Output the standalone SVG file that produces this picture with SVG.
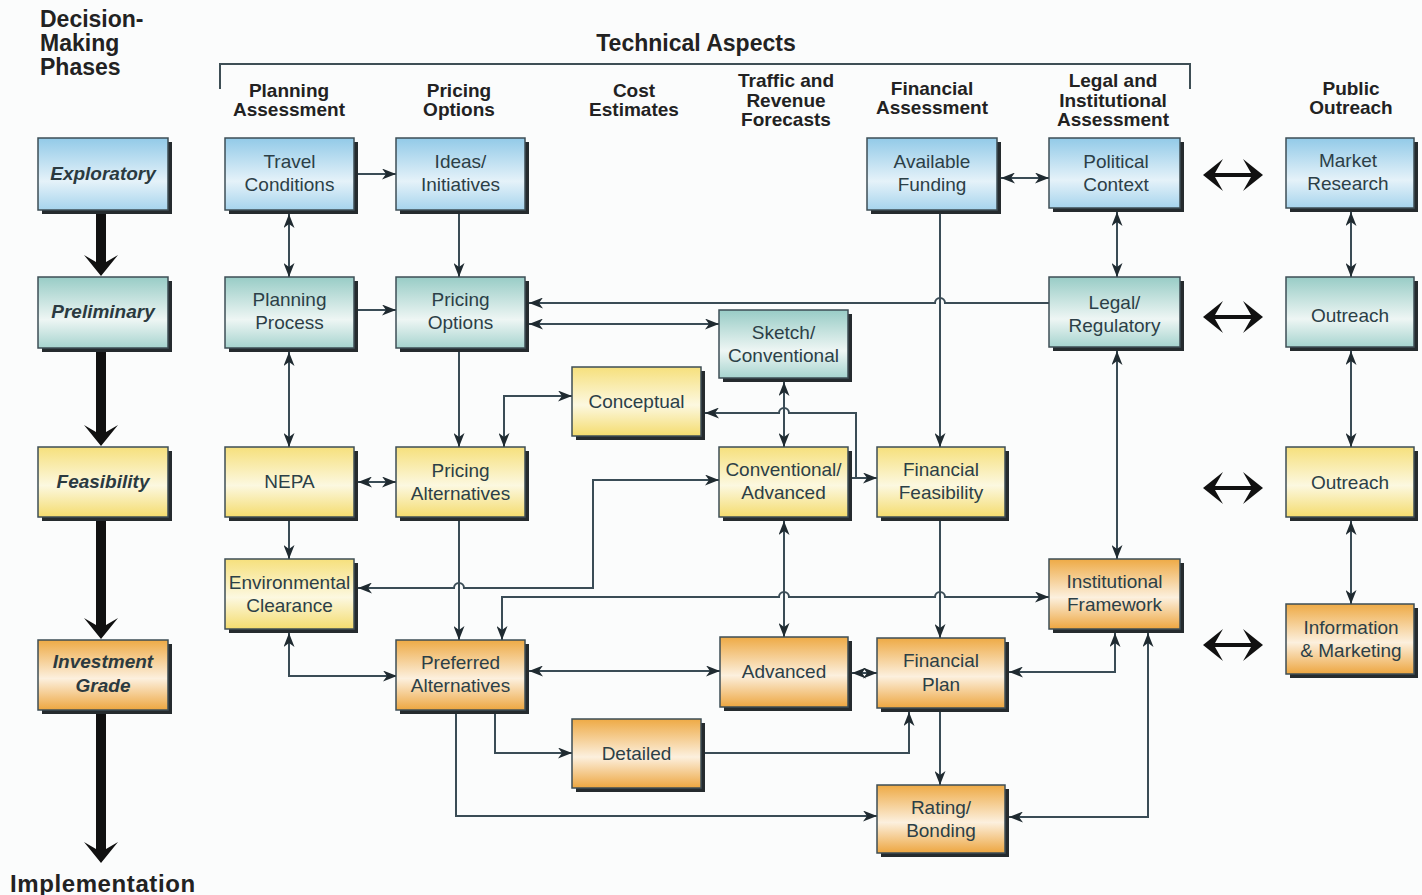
<svg xmlns="http://www.w3.org/2000/svg" width="1422" height="895" viewBox="0 0 1422 895">
<defs>
<linearGradient id="gBlue" x1="0" y1="0" x2="0" y2="1"><stop offset="0" stop-color="#92cae8"/><stop offset="0.6" stop-color="#e5f2f9"/><stop offset="1" stop-color="#a6d4ed"/></linearGradient>
<linearGradient id="gTeal" x1="0" y1="0" x2="0" y2="1"><stop offset="0" stop-color="#98ccc6"/><stop offset="0.6" stop-color="#eef6f4"/><stop offset="1" stop-color="#a6d4cf"/></linearGradient>
<linearGradient id="gYellow" x1="0" y1="0" x2="0" y2="1"><stop offset="0" stop-color="#f6e07c"/><stop offset="0.55" stop-color="#fcf8e0"/><stop offset="1" stop-color="#f4dc6e"/></linearGradient>
<linearGradient id="gOrange" x1="0" y1="0" x2="0" y2="1"><stop offset="0" stop-color="#eeaa45"/><stop offset="0.55" stop-color="#fcf0de"/><stop offset="1" stop-color="#eda640"/></linearGradient>
<marker id="ah" viewBox="0 0 14 11" refX="14" refY="5.5" markerWidth="14" markerHeight="11" markerUnits="userSpaceOnUse" orient="auto-start-reverse"><path d="M0,0 L14,5.5 L0,11 L4,5.5 Z" fill="#1f2a30"/></marker>
</defs>
<style>
.sh{fill:#252b2e}
.bx{stroke:#3e4e55;stroke-width:1.5}
.blue{fill:url(#gBlue)}
.teal{fill:url(#gTeal)}
.yel{fill:url(#gYellow)}
.org{fill:url(#gOrange)}
.t{font-family:"Liberation Sans",Arial,sans-serif;font-size:19px;fill:#2c3f47;text-anchor:middle}
.ph{font-family:"Liberation Sans",Arial,sans-serif;font-size:19px;font-weight:bold;font-style:italic;fill:#2b3a40;text-anchor:middle}
.hd{font-family:"Liberation Sans",Arial,sans-serif;font-size:19px;font-weight:bold;fill:#222;text-anchor:middle}
.big{font-family:"Liberation Sans",Arial,sans-serif;font-size:23px;font-weight:bold;fill:#222}
.c{fill:none;stroke:#3a4c56;stroke-width:2}
.e{marker-end:url(#ah)}
.b{marker-start:url(#ah);marker-end:url(#ah)}
.pa{fill:#111}
</style>
<rect x="0" y="0" width="1422" height="895" fill="#fbfcfc"/>

<g id="headers">
<text class="big" x="40" y="27">Decision-</text>
<text class="big" x="40" y="51">Making</text>
<text class="big" x="40" y="75">Phases</text>
<text class="big" x="696" y="51" text-anchor="middle">Technical Aspects</text>
<path d="M220,89 V64 H1190 V89" fill="none" stroke="#3e4e55" stroke-width="2"/>
<text class="hd" x="289" y="97">Planning</text><text class="hd" x="289" y="116">Assessment</text>
<text class="hd" x="459" y="97">Pricing</text><text class="hd" x="459" y="116">Options</text>
<text class="hd" x="634" y="97">Cost</text><text class="hd" x="634" y="116">Estimates</text>
<text class="hd" x="786" y="87">Traffic and</text><text class="hd" x="786" y="107">Revenue</text><text class="hd" x="786" y="126">Forecasts</text>
<text class="hd" x="932" y="95">Financial</text><text class="hd" x="932" y="114">Assessment</text>
<text class="hd" x="1113" y="87">Legal and</text><text class="hd" x="1113" y="107">Institutional</text><text class="hd" x="1113" y="126">Assessment</text>
<text class="hd" x="1351" y="95">Public</text><text class="hd" x="1351" y="114">Outreach</text>
<text class="big" x="10" y="892" style="font-size:24px;letter-spacing:0.6px">Implementation</text>
</g>

<g id="phase-arrows">
<path class="pa" d="M96,212 H106 V262 L118,255 L101,276 L84,255 L96,262 Z"/>
<path class="pa" d="M96,350 H106 V432 L118,425 L101,446 L84,425 L96,432 Z"/>
<path class="pa" d="M96,519 H106 V625 L118,618 L101,639 L84,618 L96,625 Z"/>
<path class="pa" d="M96,712 H106 V849 L118,842 L101,863 L84,842 L96,849 Z"/>
</g>

<g id="outreach-arrows">
<path class="pa" d="M1203,175 L1223,159 L1215,173 L1251,173 L1243,159 L1263,175 L1243,191 L1251,177 L1215,177 L1223,191 Z"/>
<path class="pa" d="M1203,317 L1223,301 L1215,315 L1251,315 L1243,301 L1263,317 L1243,333 L1251,319 L1215,319 L1223,333 Z"/>
<path class="pa" d="M1203,488 L1223,472 L1215,486 L1251,486 L1243,472 L1263,488 L1243,504 L1251,490 L1215,490 L1223,504 Z"/>
<path class="pa" d="M1203,645 L1223,629 L1215,643 L1251,643 L1243,629 L1263,645 L1243,661 L1251,647 L1215,647 L1223,661 Z"/>
</g>

<g id="connectors">
<path class="c e" d="M358,174 H396"/>
<path class="c b" d="M289,214 V277"/>
<path class="c e" d="M459,214 V277"/>
<path class="c e" d="M358,310 H396"/>
<path class="c e" d="M1049,303 H945 a5,5 0 0 0 -10,0 H529"/>
<path class="c b" d="M529,324 H719"/>
<path class="c b" d="M289,352 V447"/>
<path class="c e" d="M459,352 V447"/>
<path class="c b" d="M572,396 H504 V447"/>
<path class="c b" d="M358,482 H396"/>
<path class="c b" d="M784,382 V447"/>
<path class="c e" d="M852,478 H877"/>
<path class="c e" d="M856,478 V413 H789 a5,5 0 0 0 -10,0 H705"/>
<path class="c e" d="M940,214 V447"/>
<path class="c b" d="M1001,178 H1049"/>
<path class="c b" d="M1117,212 V277"/>
<path class="c b" d="M1117,351 V559"/>
<path class="c b" d="M1351,212 V277"/>
<path class="c b" d="M1351,351 V447"/>
<path class="c b" d="M1351,521 V604"/>
<path class="c e" d="M289,521 V559"/>
<path class="c b" d="M358,588 H454 a5,5 0 0 1 10,0 H593 V480 H719"/>
<path class="c e" d="M459,521 V640"/>
<path class="c b" d="M502,640 V597 H779 a5,5 0 0 1 10,0 H935 a5,5 0 0 1 10,0 H1049"/>
<path class="c b" d="M529,671 H720"/>
<path class="c b" d="M289,633 V676 H397"/>
<path class="c b" d="M784,521 V637"/>
<path class="c e" d="M940,521 V638"/>
<path class="c b" d="M852,673 H877"/>
<path class="c b" d="M1009,672 H1115 V633"/>
<path class="c e" d="M495,714 V753 H572"/>
<path class="c e" d="M705,753 H909 V712"/>
<path class="c e" d="M940,712 V785"/>
<path class="c e" d="M456,714 V816 H877"/>
<path class="c b" d="M1148,633 V817 H1009"/>
</g>

<g id="n-exploratory"><rect class="sh" x="42" y="142" width="130" height="72"/><rect class="bx blue" x="38" y="138" width="130" height="72"/><text class="ph" x="103" y="180">Exploratory</text></g>
<g id="n-preliminary"><rect class="sh" x="42" y="281" width="130" height="71"/><rect class="bx teal" x="38" y="277" width="130" height="71"/><text class="ph" x="103" y="318">Preliminary</text></g>
<g id="n-feasibility"><rect class="sh" x="42" y="451" width="130" height="70"/><rect class="bx yel" x="38" y="447" width="130" height="70"/><text class="ph" x="103" y="488">Feasibility</text></g>
<g id="n-investment"><rect class="sh" x="42" y="644" width="130" height="70"/><rect class="bx org" x="38" y="640" width="130" height="70"/><text class="ph" x="103" y="668">Investment</text><text class="ph" x="103" y="692">Grade</text></g>

<g id="n-travel"><rect class="sh" x="229" y="142" width="129" height="72"/><rect class="bx blue" x="225" y="138" width="129" height="72"/><text class="t" x="289.5" y="168">Travel</text><text class="t" x="289.5" y="191">Conditions</text></g>
<g id="n-planning"><rect class="sh" x="229" y="281" width="129" height="71"/><rect class="bx teal" x="225" y="277" width="129" height="71"/><text class="t" x="289.5" y="306">Planning</text><text class="t" x="289.5" y="329">Process</text></g>
<g id="n-nepa"><rect class="sh" x="229" y="451" width="129" height="70"/><rect class="bx yel" x="225" y="447" width="129" height="70"/><text class="t" x="289.5" y="488">NEPA</text></g>
<g id="n-env"><rect class="sh" x="229" y="563" width="129" height="70"/><rect class="bx yel" x="225" y="559" width="129" height="70"/><text class="t" x="289.5" y="589">Environmental</text><text class="t" x="289.5" y="612">Clearance</text></g>

<g id="n-ideas"><rect class="sh" x="400" y="142" width="129" height="72"/><rect class="bx blue" x="396" y="138" width="129" height="72"/><text class="t" x="460.5" y="168">Ideas/</text><text class="t" x="460.5" y="191">Initiatives</text></g>
<g id="n-pricing-options"><rect class="sh" x="400" y="281" width="129" height="71"/><rect class="bx teal" x="396" y="277" width="129" height="71"/><text class="t" x="460.5" y="306">Pricing</text><text class="t" x="460.5" y="329">Options</text></g>
<g id="n-pricing-alt"><rect class="sh" x="400" y="451" width="129" height="70"/><rect class="bx yel" x="396" y="447" width="129" height="70"/><text class="t" x="460.5" y="477">Pricing</text><text class="t" x="460.5" y="500">Alternatives</text></g>
<g id="n-preferred"><rect class="sh" x="400" y="644" width="129" height="70"/><rect class="bx org" x="396" y="640" width="129" height="70"/><text class="t" x="460.5" y="669">Preferred</text><text class="t" x="460.5" y="692">Alternatives</text></g>

<g id="n-conceptual"><rect class="sh" x="576" y="371" width="129" height="69"/><rect class="bx yel" x="572" y="367" width="129" height="69"/><text class="t" x="636.5" y="408">Conceptual</text></g>
<g id="n-detailed"><rect class="sh" x="576" y="723" width="129" height="69"/><rect class="bx org" x="572" y="719" width="129" height="69"/><text class="t" x="636.5" y="760">Detailed</text></g>

<g id="n-sketch"><rect class="sh" x="723" y="314" width="129" height="68"/><rect class="bx teal" x="719" y="310" width="129" height="68"/><text class="t" x="783.5" y="339">Sketch/</text><text class="t" x="783.5" y="362">Conventional</text></g>
<g id="n-conv-adv"><rect class="sh" x="723" y="451" width="129" height="70"/><rect class="bx yel" x="719" y="447" width="129" height="70"/><text class="t" x="783.5" y="476">Conventional/</text><text class="t" x="783.5" y="499">Advanced</text></g>
<g id="n-advanced"><rect class="sh" x="724" y="641" width="128" height="70"/><rect class="bx org" x="720" y="637" width="128" height="70"/><text class="t" x="784" y="678">Advanced</text></g>

<g id="n-funding"><rect class="sh" x="871" y="142" width="130" height="72"/><rect class="bx blue" x="867" y="138" width="130" height="72"/><text class="t" x="932" y="168">Available</text><text class="t" x="932" y="191">Funding</text></g>
<g id="n-fin-feas"><rect class="sh" x="881" y="451" width="128" height="70"/><rect class="bx yel" x="877" y="447" width="128" height="70"/><text class="t" x="941" y="476">Financial</text><text class="t" x="941" y="499">Feasibility</text></g>
<g id="n-fin-plan"><rect class="sh" x="881" y="642" width="128" height="70"/><rect class="bx org" x="877" y="638" width="128" height="70"/><text class="t" x="941" y="667">Financial</text><text class="t" x="941" y="691">Plan</text></g>
<g id="n-rating"><rect class="sh" x="881" y="789" width="128" height="68"/><rect class="bx org" x="877" y="785" width="128" height="68"/><text class="t" x="941" y="814">Rating/</text><text class="t" x="941" y="837">Bonding</text></g>

<g id="n-political"><rect class="sh" x="1053" y="142" width="131" height="70"/><rect class="bx blue" x="1049" y="138" width="131" height="70"/><text class="t" x="1116" y="168">Political</text><text class="t" x="1116" y="191">Context</text></g>
<g id="n-legal"><rect class="sh" x="1053" y="281" width="131" height="70"/><rect class="bx teal" x="1049" y="277" width="131" height="70"/><text class="t" x="1114.5" y="309">Legal/</text><text class="t" x="1114.5" y="332">Regulatory</text></g>
<g id="n-institutional"><rect class="sh" x="1053" y="563" width="131" height="70"/><rect class="bx org" x="1049" y="559" width="131" height="70"/><text class="t" x="1114.5" y="588">Institutional</text><text class="t" x="1114.5" y="611">Framework</text></g>

<g id="n-market"><rect class="sh" x="1290" y="142" width="128" height="70"/><rect class="bx blue" x="1286" y="138" width="128" height="70"/><text class="t" x="1348" y="167">Market</text><text class="t" x="1348" y="190">Research</text></g>
<g id="n-outreach1"><rect class="sh" x="1290" y="281" width="128" height="70"/><rect class="bx teal" x="1286" y="277" width="128" height="70"/><text class="t" x="1350" y="322">Outreach</text></g>
<g id="n-outreach2"><rect class="sh" x="1290" y="451" width="128" height="70"/><rect class="bx yel" x="1286" y="447" width="128" height="70"/><text class="t" x="1350" y="489">Outreach</text></g>
<g id="n-info"><rect class="sh" x="1290" y="608" width="128" height="70"/><rect class="bx org" x="1286" y="604" width="128" height="70"/><text class="t" x="1351" y="634">Information</text><text class="t" x="1351" y="657">&amp; Marketing</text></g>
</svg>
